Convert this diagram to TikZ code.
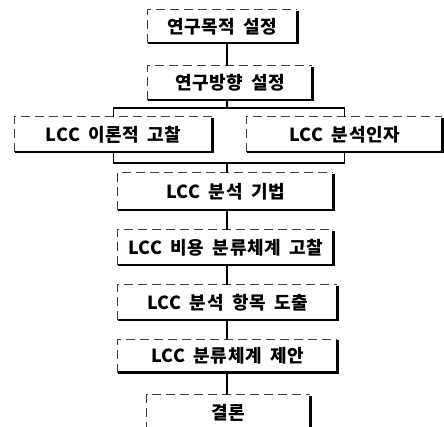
\documentclass[tikz,border=0pt]{standalone}
\usepackage{fontspec}
\newfontfamily\kr[LetterSpace=3,WordSpace=1.8]{Noto Sans CJK KR}
\begin{document}
\begin{tikzpicture}[x=1pt,y=1pt,
  box/.style={minimum width=#1, inner sep=0pt, font=\kr\bfseries\fontsize{18}{19}\selectfont},
  link/.style={line width=1.3pt, black},
  top/.style={line width=0.8pt, black!75, dash pattern=on 9pt off 5pt},
  side/.style={line width=2.6pt, black}]
\useasboundingbox (0,0) rectangle (444,427);
% y_tikz = 427 - y_px
\node[box=149, minimum height=33] (b1) at (222.5,400.5) {연구목적 설정};
\node[box=164, minimum height=34] (b2) at (230,344) {연구방향 설정};
\node[box=197, minimum height=35] (b3) at (113.5,292.5) {LCC 이론적 고찰};
\node[box=195, minimum height=35] (b4) at (344.5,292.5) {LCC 분석인자};
\node[box=215, minimum height=37] (b5) at (225.5,235.5) {LCC 분석 기법};
\node[box=215, minimum height=35] (b6) at (225.5,179.5) {LCC 비용 분류체계 고찰};
\node[box=219, minimum height=35] (b7) at (227.5,124.5) {LCC 분석 항목 도출};
\node[box=219, minimum height=33] (b8) at (227.5,71) {LCC 분류체계 제안};
\node[box=163, minimum height=36] (b9) at (228.5,14) {결론};
\foreach \n in {b1,b2,b3,b4,b5,b6,b7,b8,b9}{
  \draw[top] (\n.south west) -- (\n.north west) -- (\n.north east);
  \draw[side] ([yshift=-1pt]\n.north east) -- (\n.south east) -- (\n.south west);
}
\coordinate (j1) at (227,319);
\coordinate (j2) at (227,264);
\draw[link] (b1.south -| j1) -- (b2.north -| j1);
\draw[link] (b2.south -| j1) -- (j1);
\draw[link] (b3.north) |- (j1) -| (b4.north);
\draw[link] (b3.south) |- (j2) -| (b4.south);
\draw[link] (j2) -- (b5.north -| j2);
\draw[link] (b5.south -| j1) -- (b6.north -| j1);
\draw[link] (b6.south -| j1) -- (b7.north -| j1);
\draw[link] (b7.south -| j1) -- (b8.north -| j1);
\draw[link] (b8.south -| j1) -- (b9.north -| j1);
\end{tikzpicture}
\end{document}
